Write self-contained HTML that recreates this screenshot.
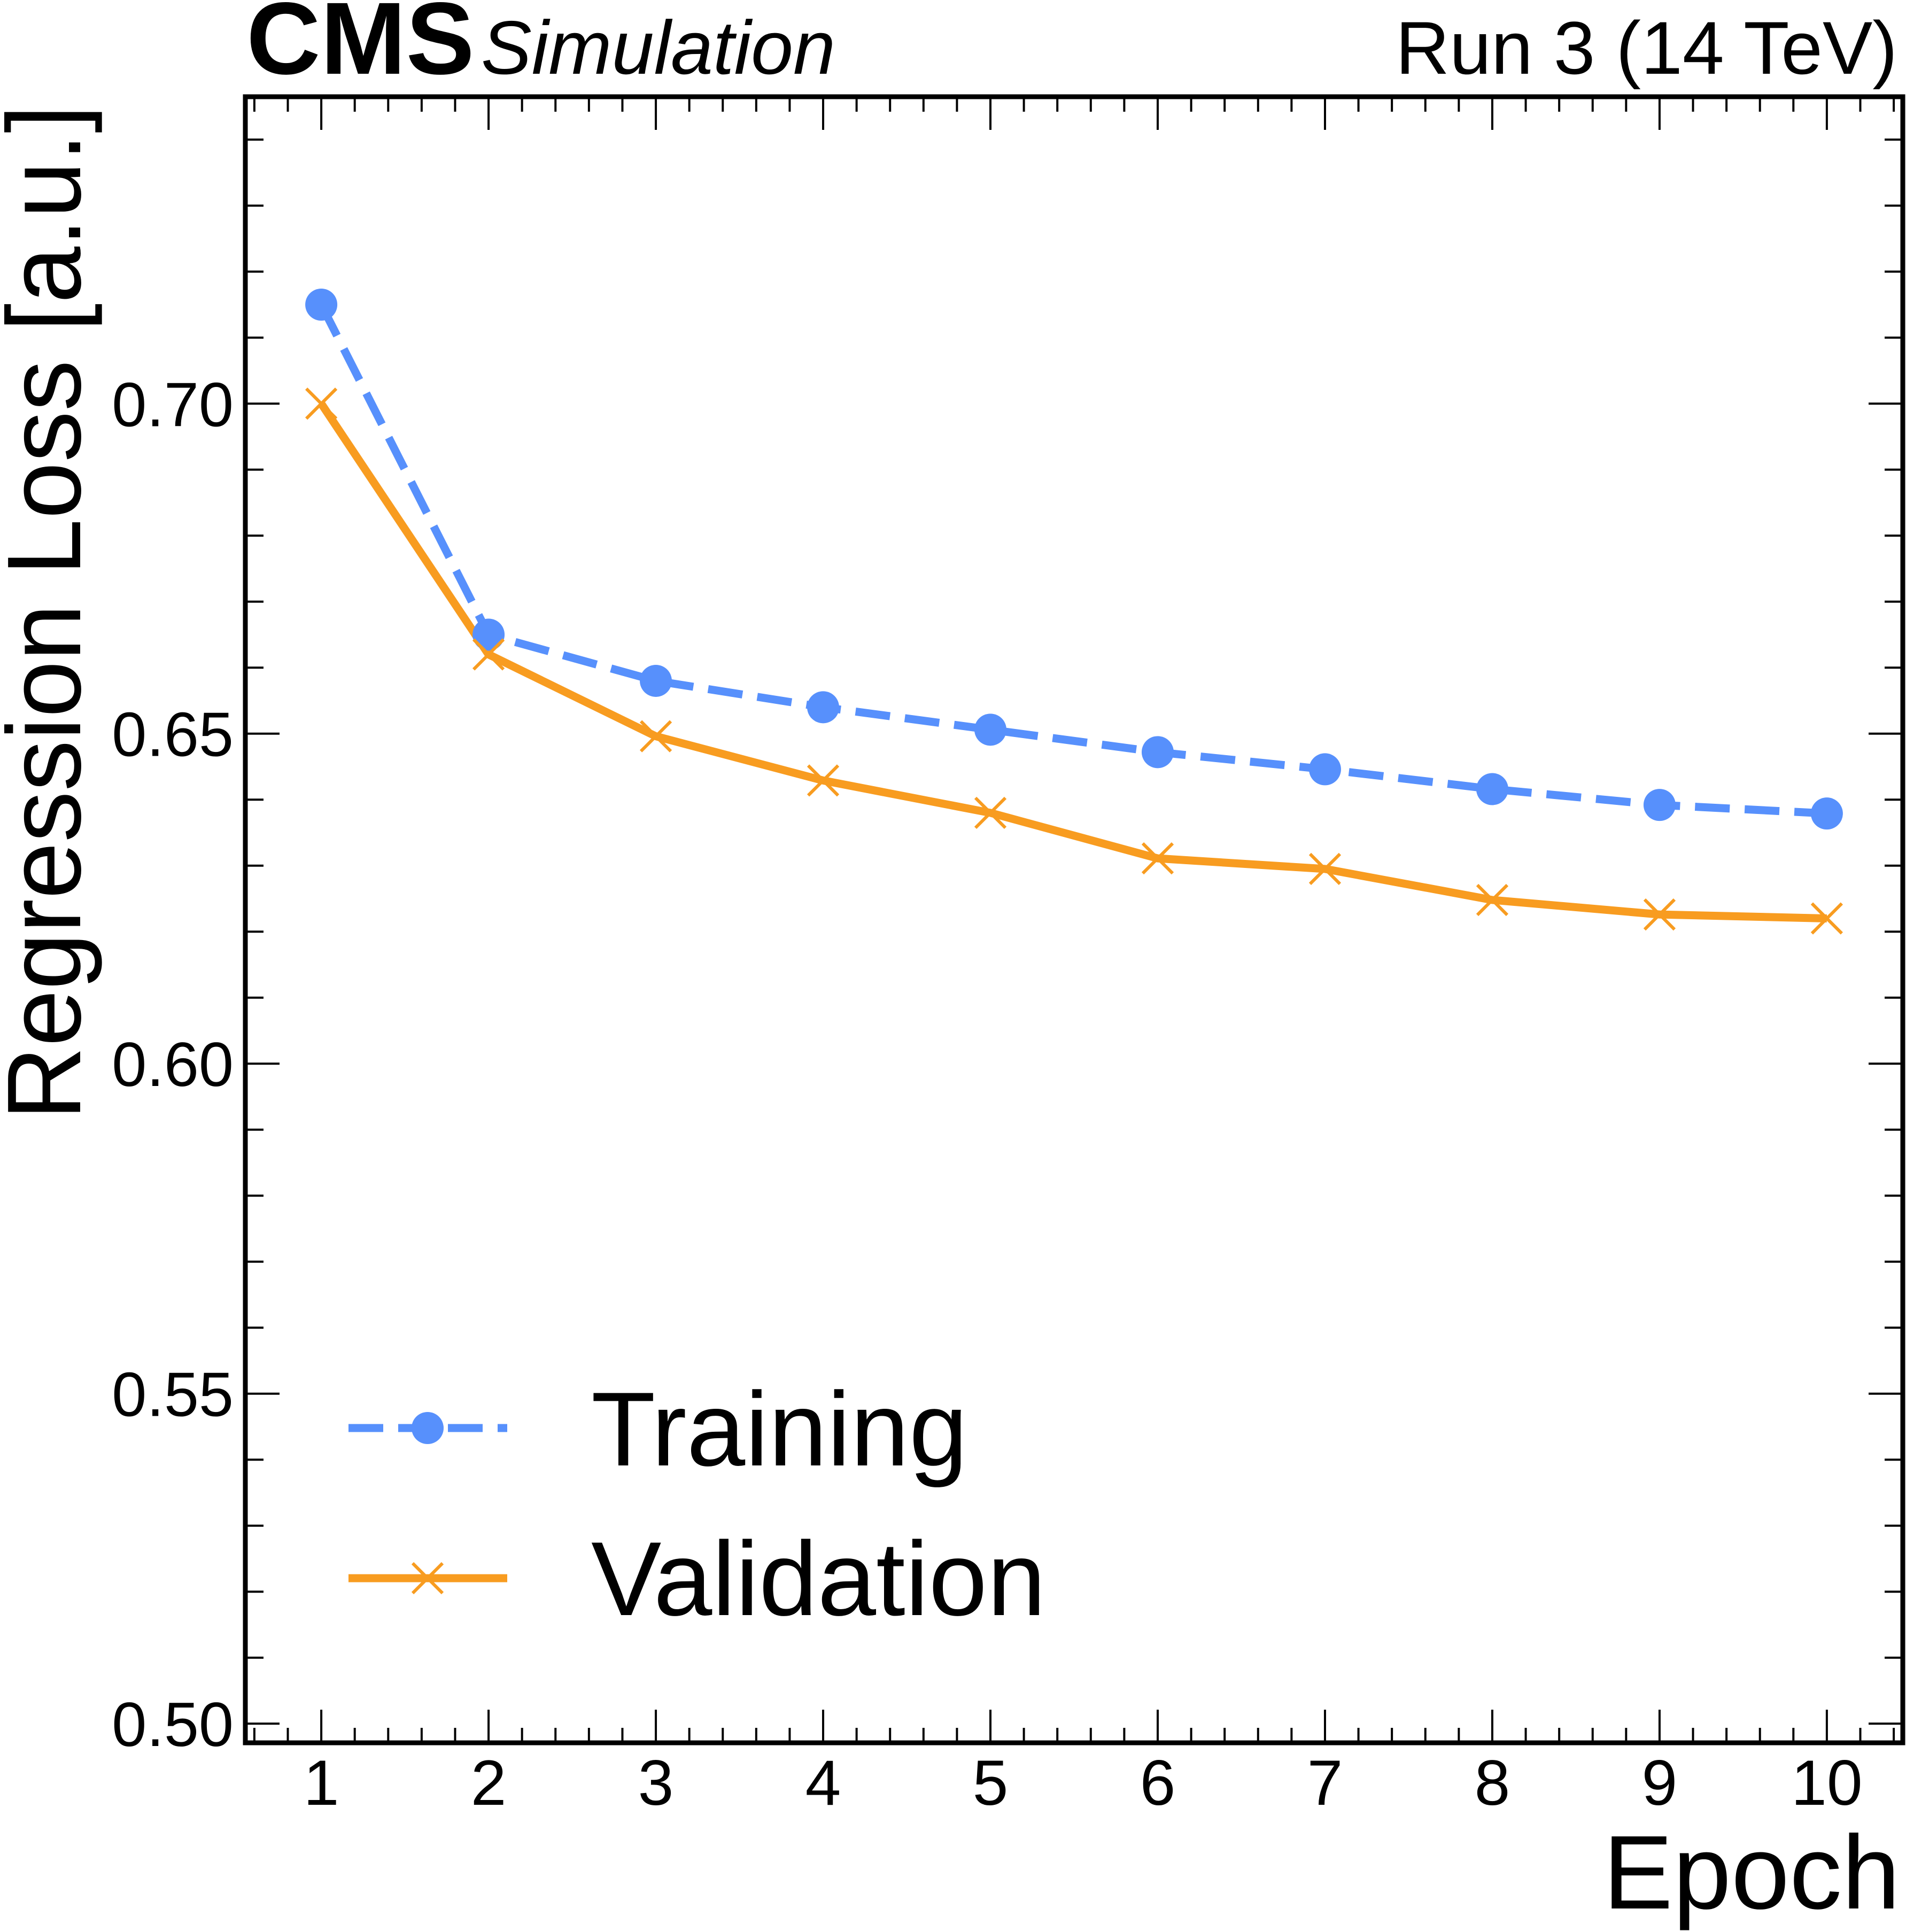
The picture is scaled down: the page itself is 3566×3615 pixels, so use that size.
<!DOCTYPE html>
<html><head><meta charset="utf-8"><style>
html,body{margin:0;padding:0;background:#fff;}
svg{display:block;font-family:"Liberation Sans",Arial,sans-serif;}
</style></head><body>
<svg id="chart" width="3566" height="3615" viewBox="0 0 3566 3615" xmlns="http://www.w3.org/2000/svg">
<text x="461" y="138" font-size="192" font-weight="bold">CMS</text>
<text x="900" y="138" font-size="142" font-style="italic">Simulation</text>
<text x="3550" y="138" font-size="140" text-anchor="end">Run 3 (14 TeV)</text>
<text transform="translate(150,1146) rotate(-90)" font-size="196" text-anchor="middle" textLength="1900" lengthAdjust="spacingAndGlyphs">Regression Loss [a.u.]</text>
<text x="3555" y="3571" font-size="196" text-anchor="end">Epoch</text>
<g id="ticks"></g>
<g id="series"></g>
<rect x="459" y="181" width="3101" height="3080" fill="none" stroke="#000" stroke-width="9"/>
<g>
<line x1="652" y1="2672" x2="949" y2="2672" stroke="#5790fc" stroke-width="15" stroke-dasharray="65,28"/>
<circle cx="800" cy="2672" r="30" fill="#5790fc"/>
<text x="1106" y="2742" font-size="197">Training</text>
<line x1="652" y1="2953" x2="949" y2="2953" stroke="#f89c20" stroke-width="15"/>
<path d="M772 2925 L828 2981 M772 2981 L828 2925" stroke="#f89c20" stroke-width="6"/>
<text x="1106" y="3022" font-size="197">Validation</text>
</g>
</svg>
<script>
const epochs=[1,2,3,4,5,6,7,8,9,10];
const training=[0.715,0.665,0.658,0.654,0.6506,0.6472,0.6446,0.6416,0.6392,0.6379];
const validation=[0.700,0.662,0.6496,0.6429,0.638,0.6311,0.6295,0.6248,0.6226,0.622];
const yTickLabels=["0.50","0.55","0.60","0.65","0.70"];
const xTickLabels=["1","2","3","4","5","6","7","8","9","10"];
const NS="http://www.w3.org/2000/svg";
const L=459,R=3560,T=181,B=3261;
const xmin=0.546,xmax=10.454,ymin=0.4971,ymax=0.7465;
function X(v){return L+(v-xmin)/(xmax-xmin)*(R-L);}
function Y(v){return B-(v-ymin)/(ymax-ymin)*(B-T);}
function mk(tag,attrs,parent){const e=document.createElementNS(NS,tag);for(const k in attrs)e.setAttribute(k,attrs[k]);parent.appendChild(e);return e;}
const tg=document.getElementById('ticks');
for(let i=0;i<=50;i++){const v=0.6+i*0.2;if(v>xmax)break;const x=X(v);const major=Math.abs(v-Math.round(v))<1e-6;const len=major?62:28;
const t1=mk('line',{x1:x,y1:B,x2:x,y2:B-len,stroke:'#000','stroke-width':4},tg);


const t2=mk('line',{x1:x,y1:T,x2:x,y2:T+len,stroke:'#000','stroke-width':4},tg);

}
xTickLabels.forEach((s,i)=>{const t=mk('text',{x:X(epochs[i]),y:3377,'font-size':120,'text-anchor':'middle'},tg);t.textContent=s;

});
for(let i=0;i<=30;i++){const v=0.50+i*0.01;if(v>ymax)break;const y=Y(v);const major=(i%5===0);const len=major?64:34;
const t1=mk('line',{x1:L,y1:y,x2:L+len,y2:y,stroke:'#000','stroke-width':4},tg);


const t2=mk('line',{x1:R,y1:y,x2:R-len,y2:y,stroke:'#000','stroke-width':4},tg);

}
yTickLabels.forEach(s=>{const t=mk('text',{x:437,y:Y(parseFloat(s))+42,'font-size':117,'text-anchor':'end'},tg);t.textContent=s;

});
const sg=document.getElementById('series');
const tp=mk('polyline',{points:epochs.map((e,i)=>X(e)+','+Y(training[i])).join(' '),fill:'none',stroke:'#5790fc','stroke-width':15,'stroke-dasharray':'65,28'},sg);


const vp=mk('polyline',{points:epochs.map((e,i)=>X(e)+','+Y(validation[i])).join(' '),fill:'none',stroke:'#f89c20','stroke-width':15,'stroke-linejoin':'round'},sg);


epochs.forEach((e,i)=>{const c=mk('circle',{cx:X(e),cy:Y(training[i]),r:30,fill:'#5790fc'},sg);


const x=X(e),y=Y(validation[i]);
const p=mk('path',{d:`M${x-28} ${y-28} L${x+28} ${y+28} M${x-28} ${y+28} L${x+28} ${y-28}`,stroke:'#f89c20','stroke-width':6},sg);

});
</script>
</body></html>
